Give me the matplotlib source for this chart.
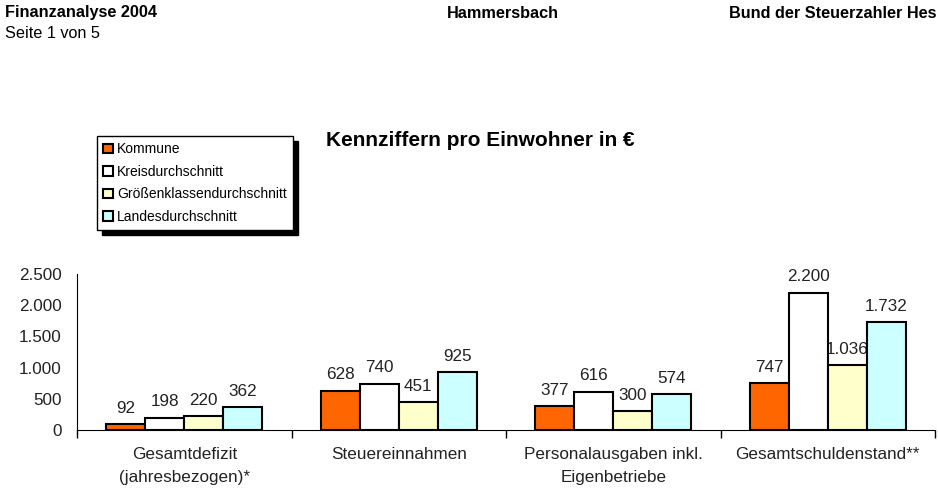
import matplotlib.pyplot as plt
import numpy as np

plt.rcParams['font.family'] = ['Liberation Sans', 'DejaVu Sans']

categories = ["Gesamtdefizit\n(jahresbezogen)*", "Steuereinnahmen",
              "Personalausgaben inkl.\nEigenbetriebe", "Gesamtschuldenstand**"]
series_names = ["Kommune", "Kreisdurchschnitt", "Größenklassendurchschnitt", "Landesdurchschnitt"]
kommune = [92, 628, 377, 747]
kreis = [198, 740, 616, 2200]
groesse = [220, 451, 300, 1036]
land = [362, 925, 574, 1732]
colors = ["#FF6600", "#FFFFFF", "#FFFFCC", "#CCFFFF"]


def de_num(v):
    return "{:,.0f}".format(v).replace(",", ".")


fig = plt.figure(figsize=(9.38, 4.99), dpi=100)
ax = fig.add_axes([77 / 938, 1 - 430 / 499, (935 - 77) / 938, (430 - 274) / 499])

x = np.arange(len(categories))
w = 0.182
offsets = [-1.5 * w, -0.5 * w, 0.5 * w, 1.5 * w]
for vals, name, col, off in zip([kommune, kreis, groesse, land], series_names, colors, offsets):
    bars = ax.bar(x + off, vals, w, color=col, edgecolor="black", linewidth=1.5,
                  label=name, zorder=3)
    for b, v in zip(bars, vals):
        ax.annotate(de_num(v), (b.get_x() + b.get_width() / 2, v), xytext=(0, 6),
                    textcoords="offset points", ha="center", va="bottom",
                    fontsize=12.3, color="#222222", zorder=2)

ax.set_xlim(-0.5, 3.5)
ax.set_ylim(0, 2500)
ax.set_yticks([0, 500, 1000, 1500, 2000, 2500])
ax.set_yticklabels([de_num(v) for v in [0, 500, 1000, 1500, 2000, 2500]], fontsize=12.3,
                   color="#222222")
ax.set_xticks(x)
ax.set_xticklabels(categories, fontsize=12.3, color="#222222", linespacing=1.7)
ax.set_xticks(np.arange(-0.5, 4.0, 1.0), minor=True)
ax.tick_params(axis="x", which="major", length=0, pad=12)
ax.tick_params(axis="x", which="minor", length=6, width=1)
ax.tick_params(axis="y", length=0, pad=11)
for s in ["top", "right"]:
    ax.spines[s].set_visible(False)

fig.text(5 / 938, 1 - 13 / 499, "Finanzanalyse 2004", fontsize=11.7, fontweight="bold", va="center")
fig.text(5 / 938, 1 - 34 / 499, "Seite 1 von 5", fontsize=11.7, va="center")
fig.text(503 / 938, 1 - 13 / 499, "Hammersbach", fontsize=11.7, fontweight="bold", va="center", ha="center")
fig.text(729 / 938, 1 - 13 / 499, "Bund der Steuerzahler Hes", fontsize=11.7, fontweight="bold", va="center")
fig.text(480 / 938, 1 - 141 / 499, "Kennziffern pro Einwohner in €", fontsize=15, fontweight="bold",
         va="center", ha="center")

fig.legend(loc="upper left", bbox_to_anchor=(97 / 938, 1 - 136 / 499), borderaxespad=0,
           fontsize=10, fancybox=False, edgecolor="black", framealpha=1,
           shadow={"ox": 3.5, "oy": -3.5, "color": "black", "alpha": 1},
           handlelength=0.7, handleheight=0.7, handletextpad=0.3, labelspacing=0.62,
           borderpad=0.45)

fig.savefig("out.png", dpi=100)
